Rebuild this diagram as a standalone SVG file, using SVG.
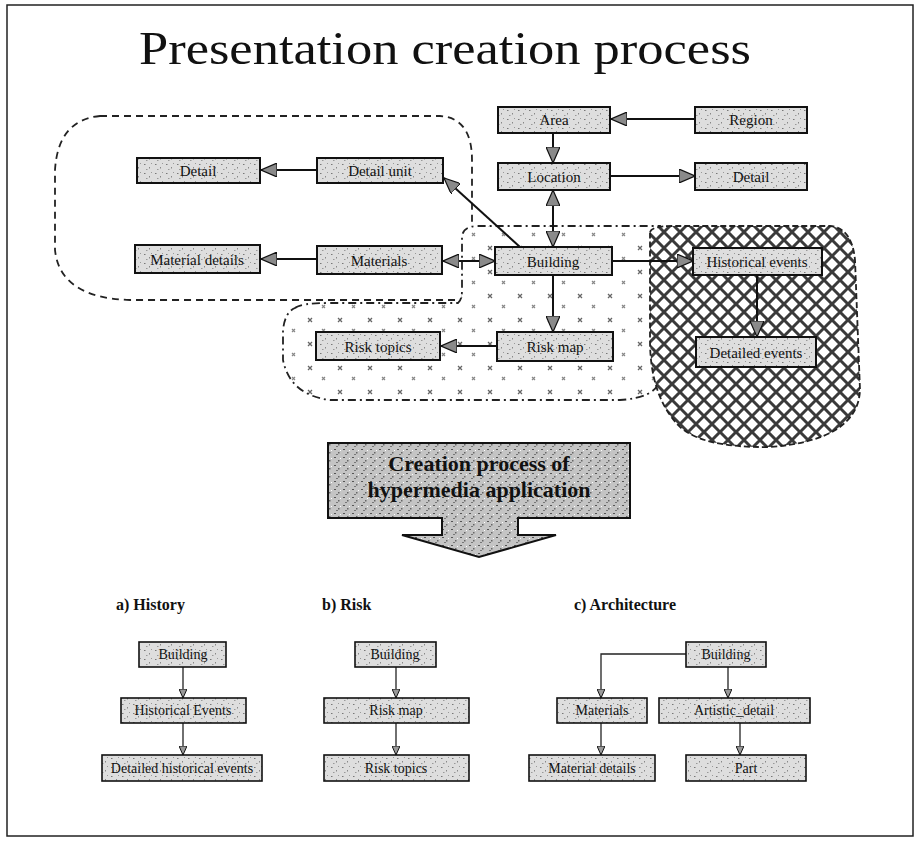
<svg xmlns="http://www.w3.org/2000/svg" width="919" height="841" viewBox="0 0 919 841">
<style>
.node rect{fill:url(#speck);stroke:#111;stroke-width:2}
.node text{font-family:"Liberation Serif",serif;font-size:15px;fill:#111;text-anchor:middle}
.sm rect{stroke-width:1.6}
.sm text{font-size:14px}
.conn line,.conn path{stroke:#111;stroke-width:2;fill:none}
.small line,.small path{stroke:#222;stroke-width:1.3;fill:none}
.lbl{font-family:"Liberation Serif",serif;font-size:16px;font-weight:bold;fill:#111}
</style>
<defs>
<pattern id="speck" width="11" height="9" patternUnits="userSpaceOnUse">
<rect width="11" height="9" fill="#dedede"/>
<rect x="1" y="2" width="1.5" height="1" fill="#777"/>
<rect x="6" y="5" width="1" height="1.5" fill="#888"/>
<rect x="8" y="1" width="1" height="1" fill="#999"/>
<rect x="3" y="7" width="1.5" height="1" fill="#999"/>
</pattern>
<pattern id="speck2" width="9" height="8" patternUnits="userSpaceOnUse">
<rect width="9" height="8" fill="#c4c4c4"/>
<rect x="1" y="1" width="2" height="1" fill="#555"/>
<rect x="5" y="4" width="1.5" height="1.5" fill="#666"/>
<rect x="3" y="6" width="2" height="1" fill="#777"/>
<rect x="7" y="2" width="1" height="1" fill="#fff"/>
</pattern>
<pattern id="lattice" width="16" height="16" patternUnits="userSpaceOnUse">
<rect width="16" height="16" fill="#fff"/>
<path d="M0,0 L16,16 M16,0 L0,16" stroke="#3a3a3a" stroke-width="3"/>
</pattern>
<pattern id="sparse" width="30" height="24" patternUnits="userSpaceOnUse">
<rect width="30" height="24" fill="#fff"/>
<path d="M8,6 l4,4 m0,-4 l-4,4" stroke="#666" stroke-width="1.3"/>
<path d="M22,17 l3,3 m0,-3 l-3,3" stroke="#888" stroke-width="1.2"/>
</pattern>
<marker id="arr" viewBox="0 0 16 14" refX="16" refY="7" markerWidth="16" markerHeight="14" markerUnits="userSpaceOnUse" orient="auto-start-reverse">
<path d="M0,0 L16,7 L0,14 Z" fill="#8a8a8a" stroke="#111" stroke-width="1.2"/>
</marker>
<marker id="sarr" viewBox="0 0 9 8" refX="9" refY="4" markerWidth="9" markerHeight="8" markerUnits="userSpaceOnUse" orient="auto">
<path d="M0,0 L9,4 L0,8 Z" fill="#999" stroke="#111" stroke-width="1"/>
</marker>
</defs>
<rect width="919" height="841" fill="#fff"/>
<rect x="7" y="5" width="906" height="831" fill="none" stroke="#222" stroke-width="1.5"/>
<text x="445" y="64" font-family="Liberation Serif, serif" font-size="46" text-anchor="middle" textLength="612" lengthAdjust="spacingAndGlyphs" fill="#111">Presentation creation process</text>

<g id="regions">
<path id="region-detail" d="M100,116 L440,116 Q472,118 472,160 L472,285 Q472,300 455,300 L130,300 Q60,298 55,250 L55,170 Q58,120 100,116 Z" fill="none" stroke="#222" stroke-width="1.8" stroke-dasharray="7,5"/>
<path id="region-risk" d="M295,308 Q300,303 330,303 L458,303 Q462,300 462,290 L462,238 Q462,226 478,226 L660,226 L660,380 Q655,398 620,400 L330,400 Q290,395 283,360 L283,330 Q285,312 295,308 Z" fill="url(#sparse)" stroke="#222" stroke-width="1.8" stroke-dasharray="8,4,2,4"/>
<path id="region-history" d="M650,232 Q652,226 672,226 L830,226 Q852,228 855,260 L860,390 Q858,440 770,447 Q700,448 678,425 Q650,395 650,340 Z" fill="url(#lattice)" stroke="#222" stroke-width="1.8" stroke-dasharray="6,3"/>
</g>

<g id="connectors" class="conn">
<line x1="695" y1="119" x2="611" y2="119" marker-end="url(#arr)"/>
<line x1="553" y1="132" x2="553" y2="163" marker-end="url(#arr)"/>
<line x1="610" y1="176" x2="695" y2="176" marker-end="url(#arr)"/>
<line x1="553" y1="190" x2="553" y2="247" marker-start="url(#arr)" marker-end="url(#arr)"/>
<line x1="520" y1="247" x2="444" y2="178" marker-end="url(#arr)"/>
<line x1="317" y1="170" x2="261" y2="170" marker-end="url(#arr)"/>
<line x1="317" y1="259" x2="261" y2="259" marker-end="url(#arr)"/>
<line x1="443" y1="261" x2="495" y2="261" marker-start="url(#arr)" marker-end="url(#arr)"/>
<line x1="612" y1="261" x2="693" y2="261" marker-end="url(#arr)"/>
<line x1="553" y1="275" x2="553" y2="332" marker-end="url(#arr)"/>
<line x1="757" y1="275" x2="757" y2="337" marker-end="url(#arr)"/>
<line x1="497" y1="346" x2="441" y2="346" marker-end="url(#arr)"/>
</g>

<g id="n-area" class="node"><rect x="498" y="107" width="112" height="26"/><text x="554" y="125">Area</text></g>
<g id="n-region" class="node"><rect x="695" y="107" width="112" height="26"/><text x="751" y="125">Region</text></g>
<g id="n-location" class="node"><rect x="498" y="163" width="112" height="27"/><text x="554" y="182">Location</text></g>
<g id="n-detail-r" class="node"><rect x="695" y="163" width="112" height="27"/><text x="751" y="182">Detail</text></g>
<g id="n-detail-l" class="node"><rect x="137" y="158" width="123" height="25"/><text x="198" y="176">Detail</text></g>
<g id="n-detail-unit" class="node"><rect x="317" y="158" width="126" height="25"/><text x="380" y="176">Detail unit</text></g>
<g id="n-material-details" class="node"><rect x="135" y="245" width="125" height="28"/><text x="197" y="265">Material details</text></g>
<g id="n-materials" class="node"><rect x="317" y="246" width="125" height="28"/><text x="379" y="266">Materials</text></g>
<g id="n-building" class="node"><rect x="495" y="247" width="117" height="28"/><text x="553" y="267">Building</text></g>
<g id="n-historical" class="node"><rect x="693" y="248" width="129" height="27"/><text x="757" y="267">Historical events</text></g>
<g id="n-risk-topics" class="node"><rect x="316" y="332" width="124" height="28"/><text x="378" y="352">Risk topics</text></g>
<g id="n-risk-map" class="node"><rect x="497" y="332" width="116" height="29"/><text x="555" y="352">Risk map</text></g>
<g id="n-detailed-events" class="node"><rect x="696" y="337" width="120" height="30"/><text x="756" y="358">Detailed events</text></g>

<g id="n-creation">
<path d="M328,443 H630 V518 H518 V535 H556 L479,557 L402,535 H442 V518 H328 Z" fill="url(#speck2)" stroke="#111" stroke-width="2"/>
<text x="479" y="471" font-family="Liberation Serif, serif" font-size="22" font-weight="bold" text-anchor="middle" fill="#111">Creation process of</text>
<text x="479" y="497" font-family="Liberation Serif, serif" font-size="22" font-weight="bold" text-anchor="middle" fill="#111">hypermedia application</text>
</g>

<text class="lbl" x="116" y="610">a) History</text>
<text class="lbl" x="322" y="610">b) Risk</text>
<text class="lbl" x="574" y="610">c) Architecture</text>

<g id="connectors-bottom" class="small">
<line x1="183" y1="667" x2="183" y2="698" marker-end="url(#sarr)"/>
<line x1="183" y1="723" x2="183" y2="755" marker-end="url(#sarr)"/>
<line x1="396" y1="667" x2="396" y2="698" marker-end="url(#sarr)"/>
<line x1="396" y1="723" x2="396" y2="755" marker-end="url(#sarr)"/>
<path d="M686,654 H601 V698" marker-end="url(#sarr)"/>
<line x1="728" y1="667" x2="728" y2="698" marker-end="url(#sarr)"/>
<line x1="601" y1="723" x2="601" y2="755" marker-end="url(#sarr)"/>
<line x1="740" y1="723" x2="740" y2="755" marker-end="url(#sarr)"/>
</g>

<g id="a-building" class="node sm"><rect x="139" y="642" width="87" height="25"/><text x="183" y="659">Building</text></g>
<g id="a-historical" class="node sm"><rect x="121" y="698" width="125" height="25"/><text x="183" y="715">Historical Events</text></g>
<g id="a-detailed" class="node sm"><rect x="102" y="755" width="160" height="26"/><text x="182" y="773">Detailed historical events</text></g>
<g id="b-building" class="node sm"><rect x="355" y="642" width="81" height="25"/><text x="395" y="659">Building</text></g>
<g id="b-riskmap" class="node sm"><rect x="324" y="698" width="145" height="25"/><text x="396" y="715">Risk map</text></g>
<g id="b-risktopics" class="node sm"><rect x="324" y="755" width="145" height="26"/><text x="396" y="773">Risk topics</text></g>
<g id="c-building" class="node sm"><rect x="686" y="642" width="80" height="25"/><text x="726" y="659">Building</text></g>
<g id="c-materials" class="node sm"><rect x="557" y="698" width="90" height="25"/><text x="602" y="715">Materials</text></g>
<g id="c-artistic" class="node sm"><rect x="659" y="698" width="151" height="25"/><text x="734" y="715">Artistic_detail</text></g>
<g id="c-material-details" class="node sm"><rect x="529" y="755" width="126" height="26"/><text x="592" y="773">Material details</text></g>
<g id="c-part" class="node sm"><rect x="686" y="755" width="120" height="26"/><text x="746" y="773">Part</text></g>
</svg>
